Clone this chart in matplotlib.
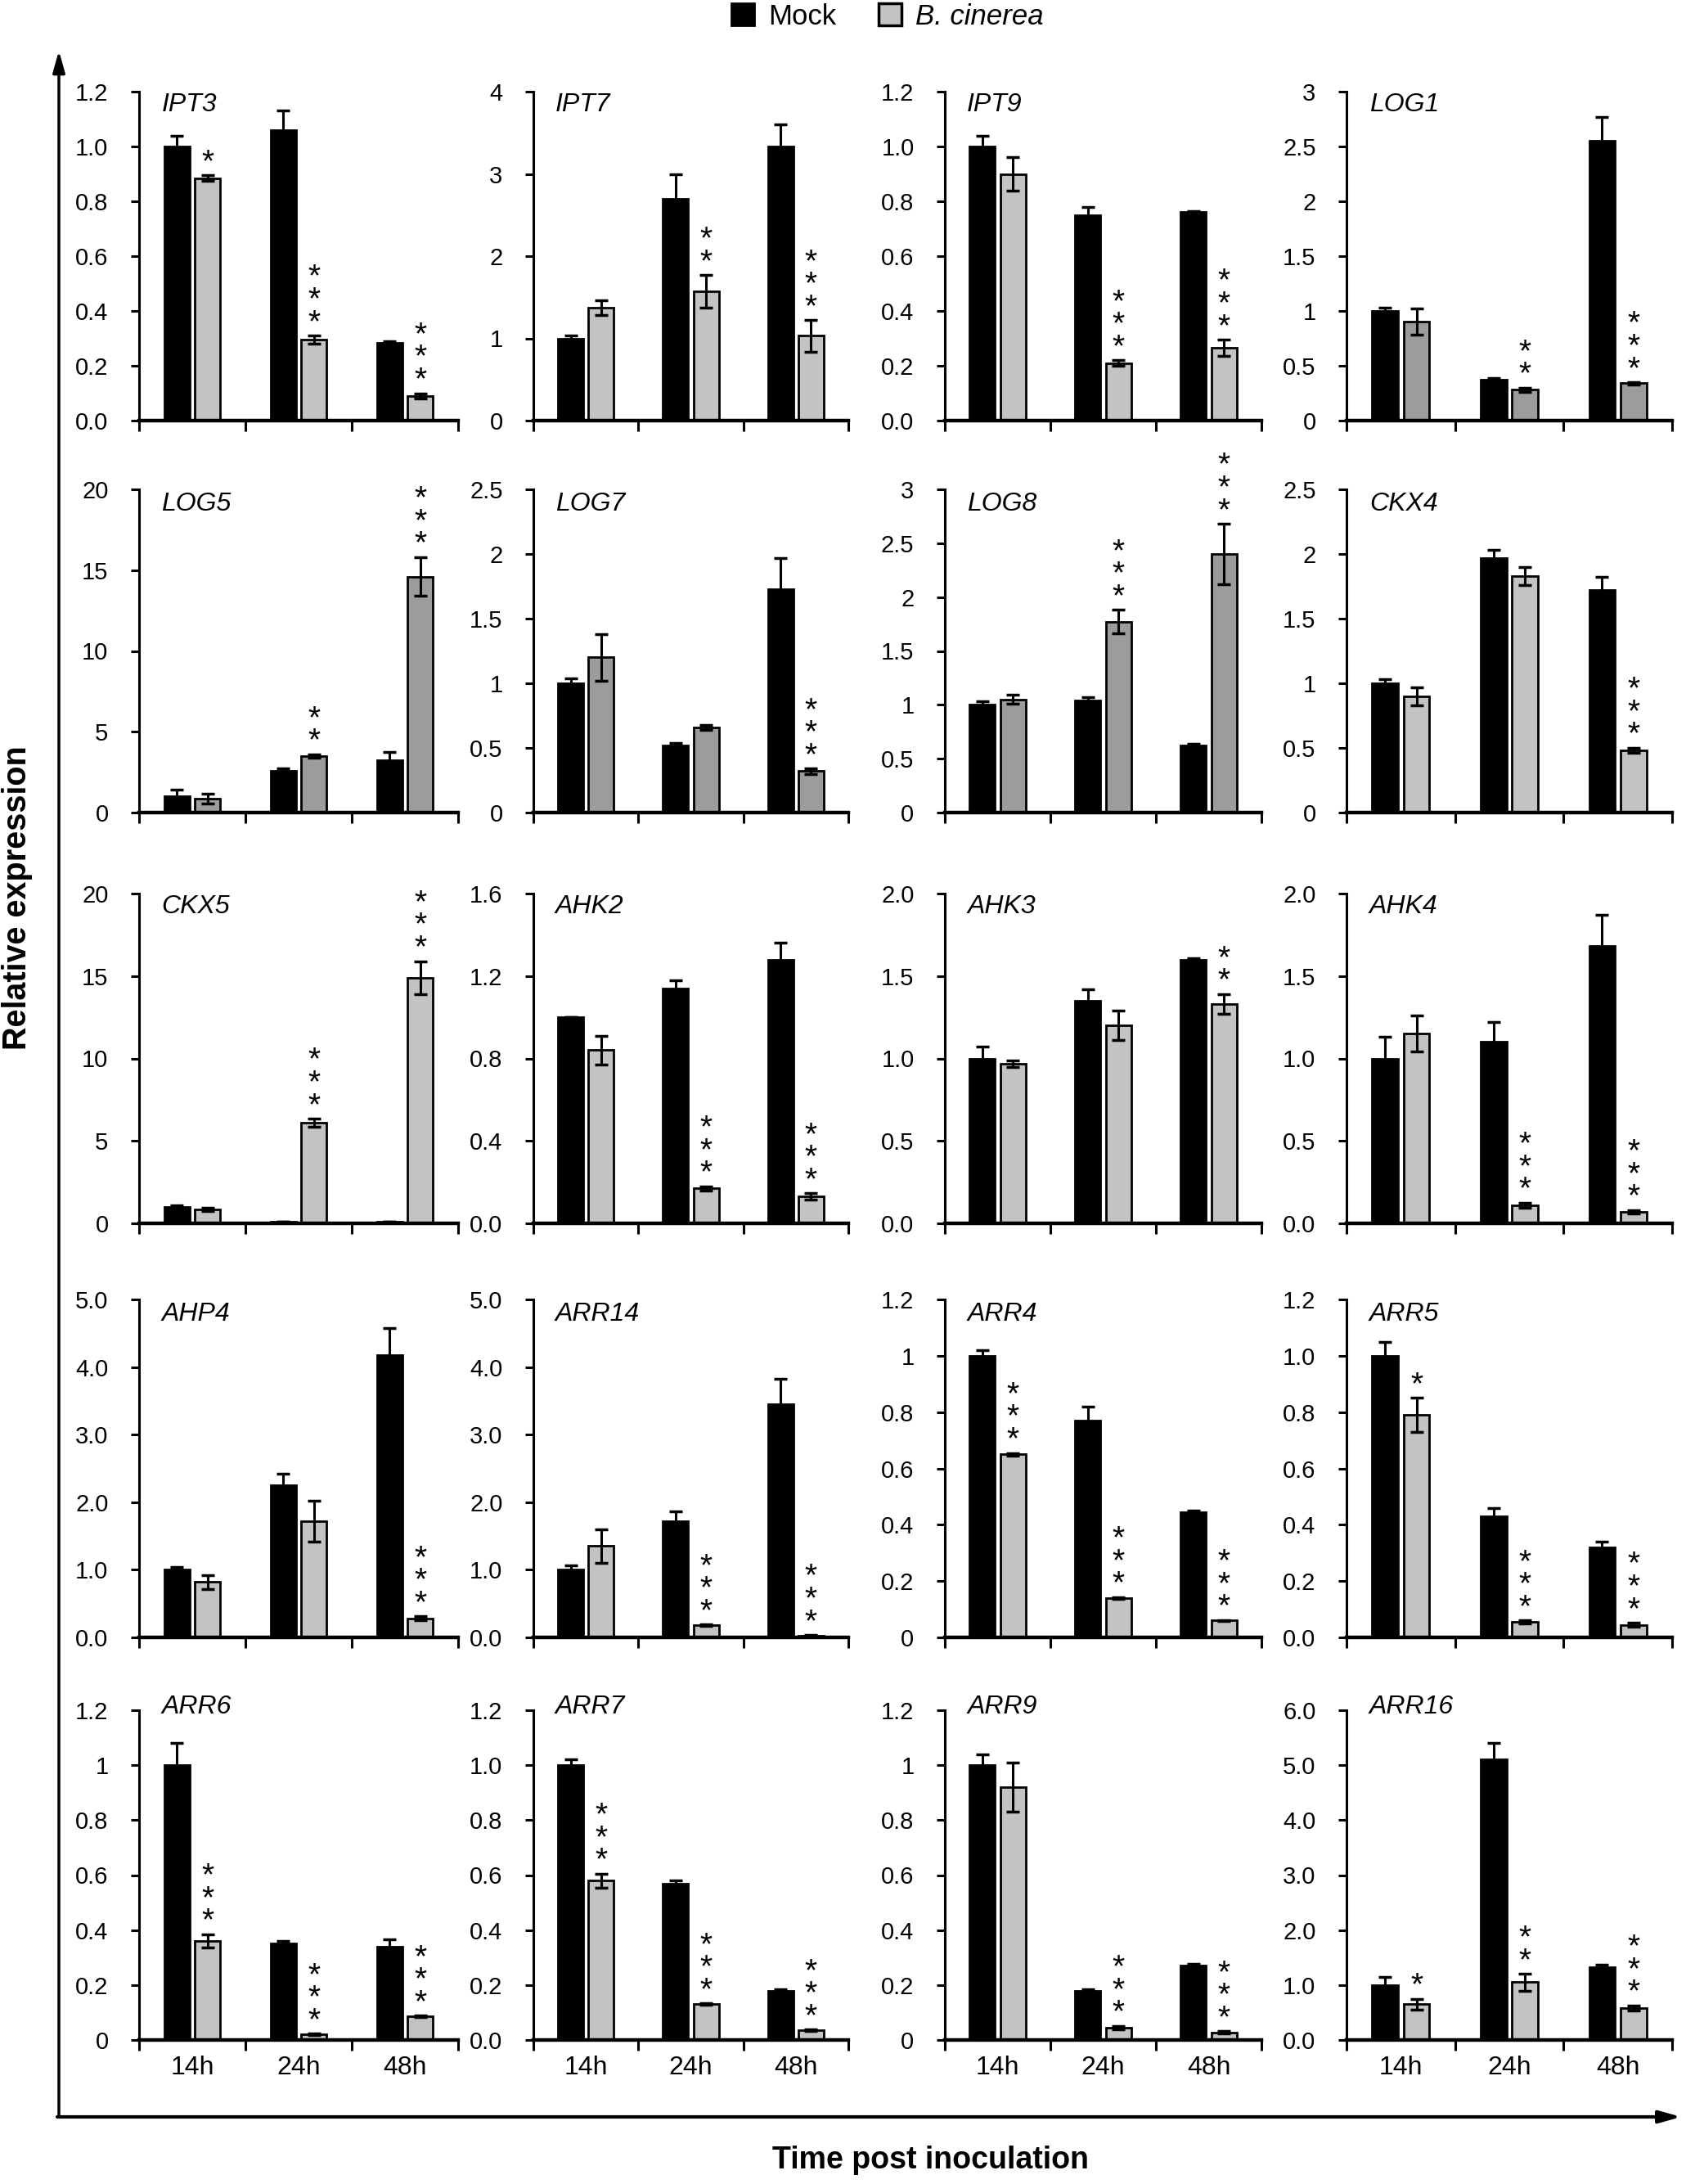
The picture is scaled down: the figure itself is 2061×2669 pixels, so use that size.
import matplotlib
matplotlib.use("Agg")
import matplotlib.pyplot as plt
from matplotlib.patches import Patch

plt.rcParams['font.family'] = ['Liberation Sans', 'DejaVu Sans']

# ---- data ----
times = ["14h", "24h", "48h"]

genes = ["IPT3", "IPT7", "IPT9", "LOG1",
         "LOG5", "LOG7", "LOG8", "CKX4",
         "CKX5", "AHK2", "AHK3", "AHK4",
         "AHP4", "ARR14", "ARR4", "ARR5",
         "ARR6", "ARR7", "ARR9", "ARR16"]

y_max = [1.2, 4, 1.2, 3,
         20, 2.5, 3, 2.5,
         20, 1.6, 2.0, 2.0,
         5.0, 5.0, 1.2, 1.2,
         1.2, 1.2, 1.2, 6.0]
y_step = [0.2, 1, 0.2, 0.5,
          5, 0.5, 0.5, 0.5,
          5, 0.4, 0.5, 0.5,
          1.0, 1.0, 0.2, 0.2,
          0.2, 0.2, 0.2, 1.0]
tick_fmt = ["{:.1f}", "{:g}", "{:.1f}", "{:g}",
            "{:g}", "{:g}", "{:g}", "{:g}",
            "{:g}", "{:.1f}", "{:.1f}", "{:.1f}",
            "{:.1f}", "{:.1f}", "{:g}", "{:.1f}",
            "{:g}", "{:.1f}", "{:g}", "{:.1f}"]

mock = [[1.0, 1.06, 0.285], [1.0, 2.7, 3.33], [1.0, 0.75, 0.76], [1.0, 0.37, 2.55],
        [1.0, 2.6, 3.25], [1.0, 0.52, 1.73], [1.0, 1.04, 0.62], [1.0, 1.97, 1.72],
        [1.0, 0.1, 0.1], [1.0, 1.14, 1.28], [1.0, 1.35, 1.6], [1.0, 1.1, 1.68],
        [1.0, 2.25, 4.18], [1.0, 1.72, 3.45], [1.0, 0.77, 0.445], [1.0, 0.43, 0.32],
        [1.0, 0.35, 0.34], [1.0, 0.57, 0.18], [1.0, 0.18, 0.27], [1.0, 5.1, 1.33]]
mock_err = [[0.04, 0.07, 0.005], [0.03, 0.3, 0.27], [0.04, 0.03, 0.005], [0.03, 0.02, 0.22],
            [0.4, 0.15, 0.5], [0.04, 0.02, 0.24], [0.03, 0.03, 0.02], [0.03, 0.06, 0.1],
            [0.1, 0.02, 0.02], [0.0, 0.04, 0.08], [0.07, 0.07, 0.01], [0.13, 0.12, 0.19],
            [0.04, 0.17, 0.4], [0.07, 0.14, 0.37], [0.02, 0.05, 0.005], [0.05, 0.03, 0.02],
            [0.08, 0.01, 0.025], [0.02, 0.01, 0.005], [0.04, 0.005, 0.007], [0.15, 0.3, 0.04]]

bcin = [[0.885, 0.295, 0.09], [1.37, 1.57, 1.03], [0.9, 0.21, 0.265], [0.9, 0.28, 0.34],
        [0.85, 3.5, 14.6], [1.2, 0.66, 0.32], [1.05, 1.77, 2.4], [0.9, 1.83, 0.48],
        [0.85, 6.1, 14.9], [0.84, 0.17, 0.13], [0.97, 1.2, 1.33], [1.15, 0.11, 0.07],
        [0.82, 1.72, 0.28], [1.35, 0.18, 0.03], [0.65, 0.14, 0.06], [0.79, 0.055, 0.045],
        [0.36, 0.02, 0.085], [0.58, 0.13, 0.035], [0.92, 0.045, 0.028], [0.65, 1.05, 0.58]]
bcin_err = [[0.01, 0.015, 0.01], [0.09, 0.2, 0.19], [0.06, 0.01, 0.03], [0.12, 0.02, 0.01],
            [0.3, 0.1, 1.2], [0.18, 0.02, 0.02], [0.04, 0.11, 0.28], [0.07, 0.07, 0.02],
            [0.1, 0.25, 1.0], [0.07, 0.01, 0.015], [0.02, 0.09, 0.06], [0.11, 0.015, 0.01],
            [0.1, 0.3, 0.03], [0.25, 0.01, 0.005], [0.005, 0.003, 0.002], [0.06, 0.005, 0.007],
            [0.025, 0.003, 0.003], [0.025, 0.003, 0.003], [0.09, 0.006, 0.004], [0.1, 0.15, 0.05]]

stars = [["*", "***", "***"], ["", "**", "***"], ["", "***", "***"], ["", "**", "***"],
         ["", "**", "***"], ["", "", "***"], ["", "***", "***"], ["", "", "***"],
         ["", "***", "***"], ["", "***", "***"], ["", "", "**"], ["", "***", "***"],
         ["", "", "***"], ["", "***", "***"], ["***", "***", "***"], ["*", "***", "***"],
         ["***", "***", "***"], ["***", "***", "***"], ["", "***", "***"], ["*", "**", "***"]]

dark_genes = ["LOG1", "LOG5", "LOG7", "LOG8"]

# ---- layout (pixels of the 2061 x 2669 picture) ----
W, H = 2061, 2669
col_left = [170, 652, 1155, 1646]
col_width = [390, 385, 387, 398]
row_top = [112, 598, 1092, 1588, 2090]
row_bottom = [514, 993, 1495, 2001, 2493]
label_y = [0.96, 0.955, 0.96, 0.957, 1.01]

fig = plt.figure(figsize=(W / 100, H / 100), dpi=100)

bar_w = 0.24
off = 0.145

for k, gene in enumerate(genes):
    r, c = divmod(k, 4)
    ax = fig.add_axes([col_left[c] / W, 1 - row_bottom[r] / H,
                       col_width[c] / W, (row_bottom[r] - row_top[r]) / H])
    gray = "#9c9c9c" if gene in dark_genes else "#c3c3c3"
    xs = range(len(times))
    xm = [i - off for i in xs]
    xb = [i + off for i in xs]
    ax.bar(xm, mock[k], bar_w, color="black", edgecolor="black", linewidth=2, zorder=2)
    ax.bar(xb, bcin[k], bar_w, color=gray, edgecolor="black", linewidth=2, zorder=2)
    ax.errorbar(xm, mock[k], yerr=mock_err[k], fmt="none", ecolor="black",
                elinewidth=2.2, capsize=6, capthick=2.5, zorder=3)
    ax.errorbar(xb, bcin[k], yerr=bcin_err[k], fmt="none", ecolor="black",
                elinewidth=2.2, capsize=6, capthick=2.5, zorder=3)

    for i, s in enumerate(stars[k]):
        if s:
            ax.annotate("\n".join(s), (xb[i], bcin[k][i] + bcin_err[k][i]),
                        xytext=(0, -2), textcoords="offset points",
                        ha="center", va="bottom", fontsize=28, linespacing=0.7,
                        annotation_clip=False, zorder=4)

    ax.set_xlim(-0.5, 2.5)
    ax.set_ylim(0, y_max[k])
    n = int(round(y_max[k] / y_step[k]))
    ticks = [j * y_step[k] for j in range(n + 1)]
    ax.set_yticks(ticks)
    ax.set_yticklabels([tick_fmt[k].format(t) for t in ticks])
    ax.set_xticks([-0.5, 0.5, 1.5, 2.5])
    ax.set_xticklabels([])
    ax.set_xticks(list(xs), minor=True)
    if r == 4:
        ax.set_xticklabels(times, minor=True)
    ax.tick_params(axis="y", direction="out", length=7, width=2.2, labelsize=21, pad=20)
    ax.tick_params(axis="x", which="major", direction="out", length=9, width=2.2)
    ax.tick_params(axis="x", which="minor", length=0, labelsize=23, pad=14)

    for side in ["top", "right"]:
        ax.spines[side].set_visible(False)
    ax.spines["left"].set_linewidth(2.2)
    ax.spines["bottom"].set_linewidth(3.2)
    ax.set_facecolor("none")

    ax.text(0.07, label_y[r], gene, transform=ax.transAxes, fontsize=23,
            style="italic", ha="left", va="center")

# ---- overlay with the big axis arrows and labels ----
ov = fig.add_axes([0, 0, 1, 1], zorder=-1)
ov.set_xlim(0, W)
ov.set_ylim(H, 0)
ov.axis("off")
ov.annotate("", xy=(72, 62), xytext=(72, 2587),
            arrowprops=dict(arrowstyle="-|>,head_length=1.6,head_width=0.45",
                            color="black", lw=2.5, shrinkA=0, shrinkB=0))
ov.annotate("", xy=(2055, 2587), xytext=(70, 2587),
            arrowprops=dict(arrowstyle="-|>,head_length=1.6,head_width=0.45",
                            color="black", lw=3, shrinkA=0, shrinkB=0))
ov.text(21, 1097, "Relative expression", rotation=90, fontsize=28.5,
        fontweight="bold", ha="center", va="center")
ov.text(1137, 2640, "Time post inoculation", fontsize=27,
        fontweight="bold", ha="center", va="center")

handles = [Patch(facecolor="black", edgecolor="black", linewidth=2),
           Patch(facecolor="#c3c3c3", edgecolor="black", linewidth=2.5)]
leg = fig.legend(handles, ["Mock", "B. cinerea"], loc="center",
                 bbox_to_anchor=(1085 / W, 1 - 20 / H), ncol=2, frameon=False,
                 fontsize=25, handlelength=0.8, handleheight=0.8,
                 handletextpad=0.5, columnspacing=1.5)
leg.get_texts()[1].set_style("italic")

fig.savefig("out.png", dpi=100)
